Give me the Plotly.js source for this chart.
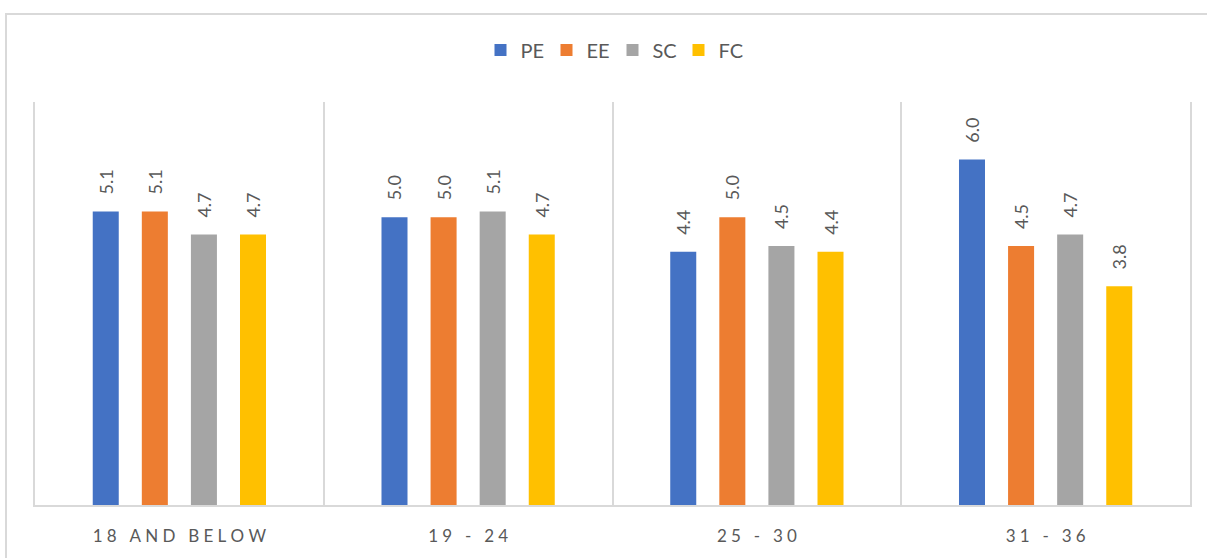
<!DOCTYPE html>
<html>
<head>
<meta charset="utf-8">
<script src="https://cdn.plot.ly/plotly-3.0.1.min.js"></script>
<style>
  html, body { margin: 0; padding: 0; background: #ffffff; }
  #chart { width: 1207px; height: 558px; }
</style>
</head>
<body>
<div id="chart"></div>
<script>
// Age groups along the x axis
const ageGroups = ['18 AND BELOW', '19 - 24', '25 - 30', '31 - 36'];

// Mean scores per construct
const peValues = [5.1, 5.0, 4.4, 6.0];
const eeValues = [5.1, 5.0, 5.0, 4.5];
const scValues = [4.7, 5.1, 4.5, 4.7];
const fcValues = [4.7, 4.7, 4.4, 3.8];

const seriesNames = ['PE', 'EE', 'SC', 'FC'];
const seriesColors = ['#4472C4', '#ED7D31', '#A5A5A5', '#FFC000'];
const seriesValues = [peValues, eeValues, scValues, fcValues];

const textGray = '#595959';
const lineGray = '#D9D9D9';
const fontFamily = 'Lato, "Open Sans", sans-serif';

// Spread the category labels out letter by letter
function spaced(label) {
  return label.split('').join('\u2009\u2009');
}

const traces = seriesNames.map((name, i) => ({
  type: 'bar',
  name: name,
  x: ageGroups,
  y: seriesValues[i],
  marker: { color: seriesColors[i] },
  text: seriesValues[i].map(v => v.toFixed(1)),
  texttemplate: '\u00a0\u00a0\u00a0%{text}',
  textposition: 'outside',
  textangle: -90,
  constraintext: 'none',
  cliponaxis: false,
  textfont: { family: fontFamily, size: 18, color: textGray },
  hoverinfo: 'skip'
}));

const layout = {
  width: 1207,
  height: 558,
  margin: { l: 35, r: 17, t: 102, b: 53 },
  paper_bgcolor: '#ffffff',
  plot_bgcolor: '#ffffff',
  barmode: 'group',
  bargap: 0.32,
  bargroupgap: 0.47,
  showlegend: true,
  legend: {
    orientation: 'h',
    x: 0.5, xanchor: 'center',
    y: 1.129, yanchor: 'middle',
    font: { family: fontFamily, size: 20, color: textGray },
    itemwidth: 30,
    entrywidth: 21,
    entrywidthmode: 'pixels',
    traceorder: 'normal'
  },
  xaxis: {
    type: 'category',
    tickmode: 'array',
    tickvals: ageGroups,
    ticktext: ageGroups.map(spaced),
    tickson: 'boundaries',
    showgrid: true,
    gridcolor: lineGray,
    gridwidth: 2,
    showline: true,
    linecolor: lineGray,
    linewidth: 2,
    ticks: '',
    ticklabelstandoff: 15,
    tickfont: { family: fontFamily, size: 17, color: textGray },
    zeroline: false
  },
  yaxis: {
    range: [0, 7],
    showgrid: false,
    zeroline: false,
    showticklabels: false,
    ticks: '',
    showline: true,
    mirror: true,
    linecolor: lineGray,
    linewidth: 2
  },
  shapes: [{
    // chart frame
    type: 'rect',
    xref: 'paper', yref: 'paper',
    x0: -0.0251, x1: 1.2,
    y0: -0.5, y1: 1.2184,
    line: { color: lineGray, width: 2 },
    fillcolor: 'rgba(0,0,0,0)',
    layer: 'below'
  }]
};

Plotly.newPlot('chart', traces, layout, { staticPlot: true, displayModeBar: false });
</script>
</body>
</html>
